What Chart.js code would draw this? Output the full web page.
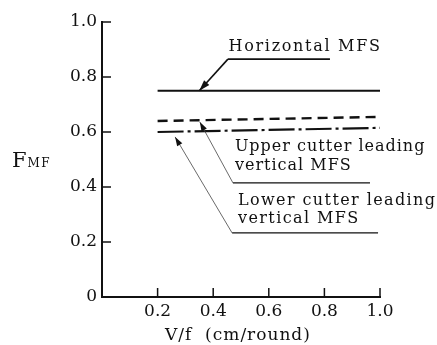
<!DOCTYPE html>
<html>
<head>
<meta charset="utf-8">
<script src="https://cdn.jsdelivr.net/npm/chart.js@4"></script>
<style>
    html, body { margin: 0; padding: 0; background: #fff; }
    #wrap { width: 437px; height: 345px; }
</style>
</head>
<body>
<div id="wrap"><canvas id="mfsChart" width="437" height="345"></canvas></div>
<script>
const xValues = [0.2, 1.0];
const horizontalMFS = [0.75, 0.75];
const upperLeading = [0.64, 0.655];
const lowerLeading = [0.60, 0.615];
const xTickValues = [0.2, 0.4, 0.6, 0.8, 1.0];
const yTickValues = [0, 0.2, 0.4, 0.6, 0.8, 1.0];
const seriesNames = ['Horizontal MFS', 'Upper cutter leading vertical MFS', 'Lower cutter leading vertical MFS'];

// callout text and leader lines, all in data units (x, y)
const callouts = [
    { lines: ['Horizontal MFS'], textX: 0.455, baselines: [0.895], tip: [0.35, 0.75], elbow: [0.453, 0.865], underlineEnd: 0.82, heavy: true, spacing: 1.7 },
    { lines: ['Upper cutter leading', 'vertical MFS'], textX: 0.478, baselines: [0.53, 0.462], tip: [0.352, 0.636], elbow: [0.471, 0.415], underlineEnd: 0.964, heavy: false, spacing: 1 },
    { lines: ['Lower cutter leading', 'vertical MFS'], textX: 0.489, baselines: [0.334, 0.268], tip: [0.263, 0.582], elbow: [0.468, 0.233], underlineEnd: 0.993, heavy: false, spacing: 1.4 }
];

const fontFamily = "'DejaVu Serif', 'Liberation Serif', serif";
const ink = '#111';

function toPoints(ys) {
    return xValues.map((x, i) => ({ x: x, y: ys[i] }));
}

function arrowHead(ctx, fromX, fromY, toX, toY, len, half) {
    const a = Math.atan2(toY - fromY, toX - fromX);
    ctx.beginPath();
    ctx.moveTo(toX, toY);
    ctx.lineTo(toX - len * Math.cos(a) + half * Math.sin(a), toY - len * Math.sin(a) - half * Math.cos(a));
    ctx.lineTo(toX - len * Math.cos(a) - half * Math.sin(a), toY - len * Math.sin(a) + half * Math.cos(a));
    ctx.closePath();
    ctx.fill();
}

const decorations = {
    id: 'decorations',
    afterDraw(chart) {
        const { ctx, chartArea } = chart;
        const xs = chart.scales.x;
        const ys = chart.scales.y;
        ctx.save();
        ctx.strokeStyle = ink;
        ctx.fillStyle = ink;

        // inside tick marks
        ctx.lineWidth = 1.5;
        xTickValues.forEach(v => {
            const px = xs.getPixelForValue(v);
            ctx.beginPath();
            ctx.moveTo(px, chartArea.bottom);
            ctx.lineTo(px, chartArea.bottom - 9);
            ctx.stroke();
        });
        yTickValues.filter(v => v > 0).forEach(v => {
            const py = ys.getPixelForValue(v);
            ctx.beginPath();
            ctx.moveTo(chartArea.left, py);
            ctx.lineTo(chartArea.left + 9, py);
            ctx.stroke();
        });

        // axis titles
        ctx.textBaseline = 'alphabetic';
        ctx.textAlign = 'left';
        ctx.font = '21px ' + fontFamily;
        ctx.fillText('F', 12, 167);
        const fw = ctx.measureText('F').width;
        ctx.font = '12px ' + fontFamily;
        ctx.letterSpacing = '1.5px';
        ctx.fillText('MF', 12 + fw + 1, 167);
        ctx.font = '17px ' + fontFamily;
        ctx.letterSpacing = '1px';
        ctx.fillText('V/f  (cm/round)', 165, 340);

        // callouts
        callouts.forEach(c => {
            ctx.font = '16px ' + fontFamily;
            ctx.letterSpacing = c.spacing + 'px';
            c.lines.forEach((t, i) => {
                ctx.fillText(t, xs.getPixelForValue(c.textX), ys.getPixelForValue(c.baselines[i]));
            });
            const ex = xs.getPixelForValue(c.elbow[0]);
            const ey = ys.getPixelForValue(c.elbow[1]);
            const tx = xs.getPixelForValue(c.tip[0]);
            const ty = ys.getPixelForValue(c.tip[1]);
            ctx.lineWidth = c.heavy ? 1.6 : 1.2;
            ctx.beginPath();
            ctx.moveTo(xs.getPixelForValue(c.underlineEnd), ey);
            ctx.lineTo(ex, ey);
            ctx.stroke();
            ctx.lineWidth = c.heavy ? 1.6 : 0.8;
            ctx.strokeStyle = c.heavy ? ink : '#444';
            ctx.beginPath();
            ctx.moveTo(ex, ey);
            ctx.lineTo(tx, ty);
            ctx.stroke();
            ctx.strokeStyle = ink;
            arrowHead(ctx, ex, ey, tx, ty, c.heavy ? 11 : 9, c.heavy ? 3.5 : 3);
        });
        ctx.restore();
    }
};

new Chart(document.getElementById('mfsChart').getContext('2d'), {
    type: 'line',
    data: {
        datasets: [
            { label: seriesNames[0], data: toPoints(horizontalMFS), borderColor: ink, borderWidth: 2.2, pointRadius: 0 },
            { label: seriesNames[1], data: toPoints(upperLeading), borderColor: ink, borderWidth: 2.4, borderDash: [10, 6], pointRadius: 0 },
            { label: seriesNames[2], data: toPoints(lowerLeading), borderColor: ink, borderWidth: 2.2, borderDash: [26, 4, 3, 4], pointRadius: 0 }
        ]
    },
    options: {
        responsive: false,
        animation: false,
        layout: { padding: { top: 22, right: 57, left: 0, bottom: 0 } },
        plugins: { legend: { display: false }, tooltip: { enabled: false } },
        scales: {
            x: {
                type: 'linear',
                min: 0,
                max: 1,
                afterBuildTicks: s => { s.ticks = xTickValues.map(v => ({ value: v })); },
                afterFit: s => { s.height = 48; },
                grid: { display: false, drawTicks: false },
                border: { display: true, color: ink, width: 2 },
                ticks: { color: ink, padding: 4, font: { family: fontFamily, size: 17 }, maxRotation: 0, callback: v => v.toFixed(1) }
            },
            y: {
                type: 'linear',
                min: 0,
                max: 1,
                afterBuildTicks: s => { s.ticks = yTickValues.map(v => ({ value: v })); },
                afterFit: s => { s.width = 102; },
                grid: { display: false, drawTicks: false },
                border: { display: true, color: ink, width: 2 },
                ticks: { color: ink, padding: 5, font: { family: fontFamily, size: 17 }, callback: v => (v === 0 ? '0' : v.toFixed(1)) }
            }
        }
    },
    plugins: [decorations]
});
</script>
</body>
</html>
